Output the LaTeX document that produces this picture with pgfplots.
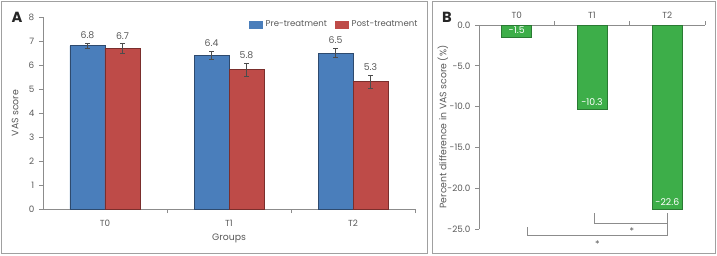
\documentclass[border=0pt]{standalone}
\usepackage{pgfplots}
\usepackage{pgfplotstable}
\pgfplotsset{compat=1.18}
\usepackage{fontspec}
\setmainfont{Poppins}
\definecolor{txt}{HTML}{595959}
\definecolor{axc}{HTML}{8C8C8C}
\definecolor{cblue}{HTML}{4A7EBB}
\definecolor{cred}{HTML}{BE4B48}
\definecolor{cgreen}{HTML}{3DAE49}
\definecolor{dblue}{HTML}{2E4A6E}
\definecolor{dred}{HTML}{7A2E2C}
\definecolor{dgreen}{HTML}{2A7A33}
\definecolor{framec}{HTML}{A0A0A0}
\newcommand{\fs}{\fontsize{6.6pt}{8pt}\selectfont}
\newcommand{\fl}{\fontsize{7pt}{8pt}\selectfont}
\newcommand{\fg}{\fontsize{6.4pt}{8pt}\selectfont}

\pgfplotstableread{
x pre preerr post posterr
0 6.8 0.11 6.7 0.20
1 6.4 0.18 5.8 0.28
2 6.5 0.20 5.3 0.28
}\tabA

\pgfplotstableread{
x diff
0 -1.5
1 -10.3
2 -22.6
}\tabB

\begin{document}
\begin{tikzpicture}[x=0.75pt,y=0.75pt]
\useasboundingbox (0,0) rectangle (717,255);
\draw[framec, line width=0.75pt] (1.5,1.5) rectangle (427,253.5);
\draw[framec, line width=0.75pt] (432,1.5) rectangle (715.5,253.5);
\node[font=\bfseries\fontsize{11pt}{12pt}\selectfont, text=black!85] at (17,238) {A};
\node[font=\bfseries\fontsize{11pt}{12pt}\selectfont, text=black!85] at (447,238) {B};

\begin{axis}[
  at={(32.25pt,34.5pt)}, anchor=south west,
  scale only axis, width=279pt, height=144pt,
  ybar=0pt, bar width=26.25pt,
  xmin=-0.5, xmax=2.5, ymin=0, ymax=8,
  axis lines*=left,
  axis line style={axc, line width=0.6pt},
  tick style={axc, line width=0.6pt},
  tick align=outside,
  major tick length=3pt, minor tick length=3pt,
  xtick={0,1,2}, xticklabels={T0,T1,T2},
  major x tick style={draw=none},
  minor xtick={0.5,1.5,2.5},
  ytick={0,1,...,8},
  ticklabel style={font=\fs, text=txt},
  /pgf/number format/assume math mode=true,
  xticklabel style={yshift=-2pt},
  xlabel={Groups}, ylabel={VAS score},
  every axis x label/.style={at={(axis description cs:0.5,0)}, anchor=center, yshift=-21.75pt, font=\fl, text=txt},
  every axis y label/.style={at={(axis description cs:0,0.5)}, xshift=-21pt, anchor=center, rotate=90, font=\fl, text=txt},
  legend style={at={(1.025,1.01)}, anchor=north east, draw=none, fill=none,
    legend columns=2, font=\fg, text=txt,
    /tikz/every even column/.append style={column sep=4pt}},
  legend image code/.code={\draw[#1, draw=none] (0pt,-3pt) rectangle (10.5pt,3pt);},
  nodes near coords,
  nodes near coords style={/pgf/number format/fixed, /pgf/number format/fixed zerofill, /pgf/number format/precision=1},
  every node near coord/.append style={font=\fl, text=txt, inner sep=0pt, anchor=south,
     shift={(axis direction cs:0,\err)}, yshift=3pt},
  error bars/error bar style={black!70, line width=0.55pt},
  error bars/error mark options={rotate=90, mark size=1.8pt, black!70, line width=0.55pt},
]
\addplot[fill=cblue, draw=dblue, line width=0.5pt,
  visualization depends on={\thisrow{preerr} \as \err},
  error bars/.cd, y dir=both, y explicit]
  table[x=x, y=pre, y error=preerr] {\tabA};
\addplot[fill=cred, draw=dred, line width=0.5pt,
  visualization depends on={\thisrow{posterr} \as \err},
  error bars/.cd, y dir=both, y explicit]
  table[x=x, y=post, y error=posterr] {\tabA};
\legend{Pre-treatment, Post-treatment}
\end{axis}

\begin{axis}[
  at={(359.25pt,19.5pt)}, anchor=south west,
  scale only axis, width=169.5pt, height=153pt,
  ybar, bar width=22.5pt,
  xmin=-0.5, xmax=2.5, ymin=-25, ymax=0,
  axis x line*=top, axis y line*=left,
  axis line style={axc, line width=0.6pt},
  tick style={axc, line width=0.6pt},
  tick align=outside,
  major tick length=3pt, minor tick length=3pt,
  xtick={0,1,2}, xticklabels={T0,T1,T2},
  major x tick style={draw=none},
  minor xtick={0.5,1.5,2.5},
  ytick={0,-5,-10,-15,-20,-25},
  ticklabel style={font=\fs, text=txt},
  xticklabel style={yshift=-1.5pt},
  /pgf/number format/assume math mode=true,
  yticklabel style={/pgf/number format/fixed, /pgf/number format/fixed zerofill, /pgf/number format/precision=1},
  ylabel={Percent difference in VAS score (\%)},
  every axis y label/.style={at={(axis description cs:0,0.5)}, xshift=-27pt, anchor=center, rotate=90, font=\fl, text=txt},
  clip=false,
  nodes near coords,
  nodes near coords style={/pgf/number format/fixed, /pgf/number format/fixed zerofill, /pgf/number format/precision=1},
  every node near coord/.append style={font=\fl, text=white, inner sep=0pt, anchor=center, yshift=5.25pt},
]
\addplot[fill=cgreen, draw=dgreen, line width=0.5pt] table[x=x, y=diff] {\tabB};
\draw[axc, line width=0.6pt] (axis cs:1.03,-23.04) -- (axis cs:1.03,-24.26) -- (axis cs:2,-24.26);
\draw[axc, line width=0.6pt] (axis cs:2,-23.04) -- (axis cs:2,-25.74) -- (axis cs:0.14,-25.74) -- (axis cs:0.14,-24.75);
\node[font=\fl, text=txt] at (axis cs:1.53,-25.3) {*};
\node[font=\fl, text=txt] at (axis cs:1.07,-26.9) {*};
\end{axis}
\end{tikzpicture}
\end{document}
